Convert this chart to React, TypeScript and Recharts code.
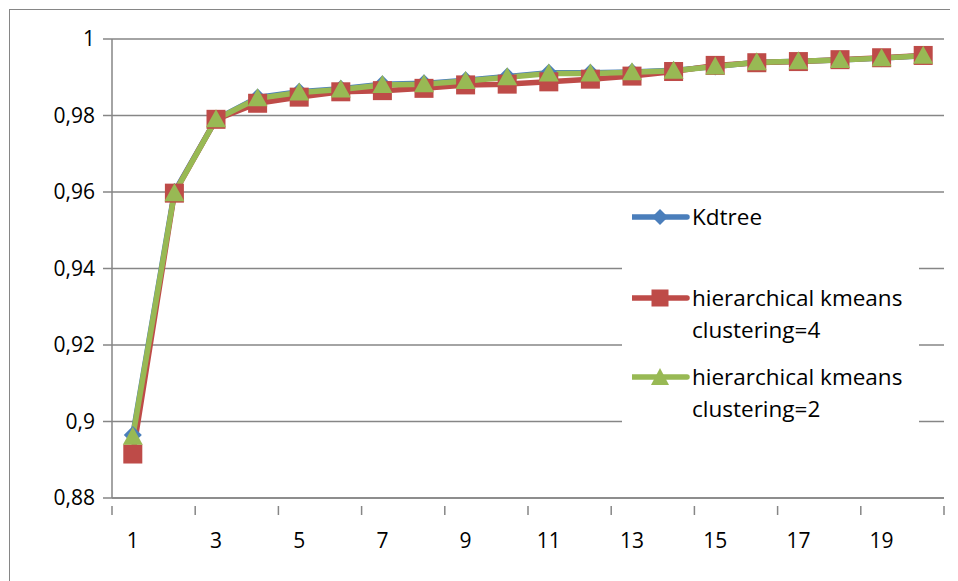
import React from 'react';
import { LineChart, Line, XAxis, YAxis, CartesianGrid } from 'recharts';

const categories = [1, 2, 3, 4, 5, 6, 7, 8, 9, 10, 11, 12, 13, 14, 15, 16, 17, 18, 19, 20];
const kdtree = [0.8965, 0.96, 0.979, 0.9847, 0.9862, 0.987, 0.9882, 0.9884, 0.9892, 0.9902, 0.9912, 0.9912, 0.9914, 0.9918, 0.9928, 0.9939, 0.9942, 0.9945, 0.995, 0.9956];
const hk4 = [0.8915, 0.9597, 0.979, 0.9832, 0.9848, 0.9862, 0.9865, 0.9871, 0.988, 0.9882, 0.9888, 0.9895, 0.9903, 0.9915, 0.9931, 0.9938, 0.9941, 0.9946, 0.9951, 0.9957];
const hk2 = [0.896, 0.9597, 0.979, 0.9845, 0.986, 0.9868, 0.988, 0.9882, 0.989, 0.99, 0.991, 0.991, 0.9913, 0.9917, 0.9928, 0.9939, 0.9942, 0.9945, 0.995, 0.9956];
const yTicks = [0.88, 0.9, 0.92, 0.94, 0.96, 0.98, 1];
// labels on odd categories, tick marks on every second band boundary
const xTicks = [0.5, 1, 2.5, 3, 4.5, 5, 6.5, 7, 8.5, 9, 10.5, 11, 12.5, 13, 14.5, 15, 16.5, 17, 18.5, 19, 20.5];

const data = categories.map((c, i) => ({ x: c, kd: kdtree[i], h4: hk4[i], h2: hk2[i] }));

const BLUE = '#4a7ebb';
const RED = '#be4b48';
const GREEN = '#98b954';
const AXIS = '#868686';
const FONT = '"Open Sans", sans-serif';

const Diamond = (p: any) => {
    const { cx, cy } = p;
    if (cx == null || cy == null) return <g key={p.key} />;
    return <polygon key={p.key} points={`${cx},${cy - 9} ${cx + 9},${cy} ${cx},${cy + 9} ${cx - 9},${cy}`} fill={BLUE} />;
};
const Square = (p: any) => {
    const { cx, cy } = p;
    if (cx == null || cy == null) return <g key={p.key} />;
    return <rect key={p.key} x={cx - 9.5} y={cy - 9.5} width={19} height={19} fill={RED} />;
};
const Triangle = (p: any) => {
    const { cx, cy } = p;
    if (cx == null || cy == null) return <g key={p.key} />;
    return <polygon key={p.key} points={`${cx},${cy - 10} ${cx + 10},${cy + 8} ${cx - 10},${cy + 8}`} fill={GREEN} />;
};

const XTick = (p: any) => {
    const { x, y, payload } = p;
    const v = payload.value;
    if (Number.isInteger(v)) {
        return <text x={x} y={y + 42} textAnchor="middle" fontSize={21} fontFamily={FONT} fill="#000">{v}</text>;
    }
    return <line x1={x} y1={y} x2={x} y2={y + 9} stroke={AXIS} strokeWidth={1.5} />;
};

const legendItems = [
    { label: ['Kdtree'], color: BLUE, shape: 'diamond', top: 6 },
    { label: ['hierarchical kmeans', 'clustering=4'], color: RED, shape: 'square', top: 87 },
    { label: ['hierarchical kmeans', 'clustering=2'], color: GREEN, shape: 'triangle', top: 166 },
];

const LegendBox = () => (
    <div style={{ position: 'absolute', left: 614, top: 187, width: 297, height: 240, background: '#fff' }}>
        {legendItems.map(it => (
            <div key={it.label.join()} style={{ position: 'absolute', left: 10, top: it.top, display: 'flex', alignItems: 'flex-start' }}>
                <svg width={58} height={32} style={{ flex: 'none' }}>
                    <line x1={1} y1={16} x2={55} y2={16} stroke={it.color} strokeWidth={5.5} strokeLinecap="round" />
                    {it.shape === 'diamond' && <polygon points="28,8 36,16 28,24 20,16" fill={it.color} />}
                    {it.shape === 'square' && <rect x={19.5} y={7.5} width={17} height={17} fill={it.color} />}
                    {it.shape === 'triangle' && <polygon points="28,7 37,24 19,24" fill={it.color} />}
                </svg>
                <div style={{ fontFamily: FONT, fontSize: 22.5, lineHeight: '32px', color: '#000', marginLeft: 2, whiteSpace: 'nowrap' }}>
                    {it.label.map(l => <div key={l}>{l}</div>)}
                </div>
            </div>
        ))}
    </div>
);

export default function App() {
    return (
        <div style={{ position: 'relative', width: 950, height: 573, overflow: 'hidden' }}>
            <div style={{ position: 'absolute', left: 1, top: 1, width: 1100, height: 700, border: `1.5px solid ${AXIS}` }} />
            <LineChart width={950} height={573} data={data} margin={{ top: 31, right: 14, left: 0, bottom: 43 }}>
                <CartesianGrid vertical={false} stroke={AXIS} strokeWidth={1.5} />
                <XAxis
                    dataKey="x"
                    type="number"
                    domain={[0.5, 20.5]}
                    ticks={xTicks}
                    interval={0}
                    tick={<XTick />}
                    tickLine={false}
                    axisLine={{ stroke: AXIS, strokeWidth: 1.5 }}
                    height={40}
                />
                <YAxis
                    type="number"
                    domain={[0.88, 1]}
                    ticks={yTicks}
                    interval={0}
                    width={104}
                    tickSize={9}
                    tickMargin={8}
                    tickFormatter={(v: number) => String(v).replace('.', ',')}
                    tick={{ fontSize: 21, fontFamily: FONT, fill: '#000' }}
                    tickLine={{ stroke: AXIS, strokeWidth: 1.5 }}
                    axisLine={{ stroke: AXIS, strokeWidth: 1.5 }}
                />
                <Line dataKey="kd" name="Kdtree" stroke={BLUE} strokeWidth={5.5} dot={<Diamond />} isAnimationActive={false} />
                <Line dataKey="h4" name="hierarchical kmeans clustering=4" stroke={RED} strokeWidth={5.5} dot={<Square />} isAnimationActive={false} />
                <Line dataKey="h2" name="hierarchical kmeans clustering=2" stroke={GREEN} strokeWidth={5.5} dot={<Triangle />} isAnimationActive={false} />
            </LineChart>
            <LegendBox />
        </div>
    );
}
